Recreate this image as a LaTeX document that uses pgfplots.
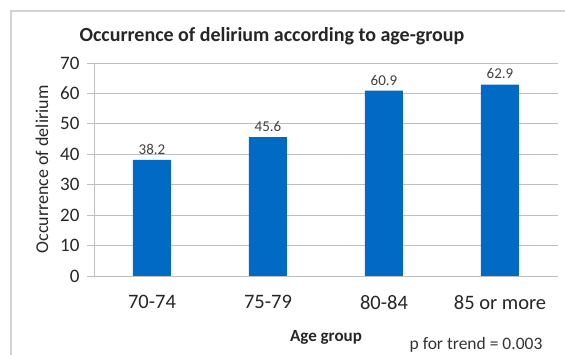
\documentclass[border=0pt]{standalone}
\usepackage{fontspec}
\setmainfont{Carlito}
\usepackage{pgfplots}
\usetikzlibrary{calc}
\pgfplotsset{compat=1.18}
\definecolor{barblue}{RGB}{0,106,196}
\definecolor{gridgray}{RGB}{191,191,191}
\definecolor{framegray}{RGB}{210,210,210}
\definecolor{labgray}{RGB}{64,64,64}
\begin{document}
\begin{tikzpicture}[x=1pt,y=1pt]
\begin{axis}[
  name=ax,
  at={(0,0)}, anchor=south west, scale only axis,
  width=464pt, height=213pt,
  xmin=-0.5, xmax=3.5, ymin=0, ymax=70,
  ytick={0,10,...,70},
  xtick={0,1,2,3},
  xticklabels={70-74,75-79,80-84,85 or more},
  axis line style={draw=none},
  ymajorgrids, grid style={gridgray, line width=0.8pt},
  xtick style={draw=none},
  ytick pos=left, tick align=outside, major tick length=7pt,
  ytick style={gridgray, line width=0.8pt},
  /pgf/number format/assume math mode=true,
  yticklabel style={font=\fontsize{19}{21}\selectfont, text=black!85, xshift=-4pt},
  xticklabel style={font=\fontsize{20.5}{23}\selectfont, text=black!85, yshift=-9pt},
  every axis y label/.style={at={(axis description cs:0,0.5)}, rotate=90, anchor=center, yshift=52pt, font=\fontsize{18}{20}\selectfont, text=black!85},
  ylabel={Occurrence of delirium},
  every axis x label/.style={at={(axis description cs:0.5,0)}, anchor=center, yshift=-61pt, font=\bfseries\fontsize{17}{20}\selectfont, text=black!85},
  xlabel={Age group},
  ybar, bar width=38pt,
  nodes near coords,
  every node near coord/.append style={font=\fontsize{15}{17}\selectfont, text=labgray, yshift=2pt, /pgf/number format/fixed, /pgf/number format/precision=1, /pgf/number format/fixed zerofill},
]
\addplot[fill=barblue, draw=none] coordinates {(0,38.2) (1,45.6) (2,60.9) (3,62.9)};
\draw[gridgray, line width=0.8pt] (rel axis cs:0,0) -- (rel axis cs:0,1);
\end{axis}
\pgfresetboundingbox
\coordinate (O) at ($(ax.south west)+(-94,-79)$);
\path[use as bounding box] (O) rectangle ++(565,355);
\begin{scope}[shift={(O)}]
\draw[framegray, line width=1.5pt] (11,-5) -- (11,344) -- (570,344);
\node[font=\bfseries\fontsize{20}{23}\selectfont, text=black!85] at (272,319) {Occurrence of delirium according to age-group};
\node[font=\fontsize{17.5}{20}\selectfont, text=black!80] at (476,10) {p for trend = 0.003};
\end{scope}
\end{tikzpicture}
\end{document}
